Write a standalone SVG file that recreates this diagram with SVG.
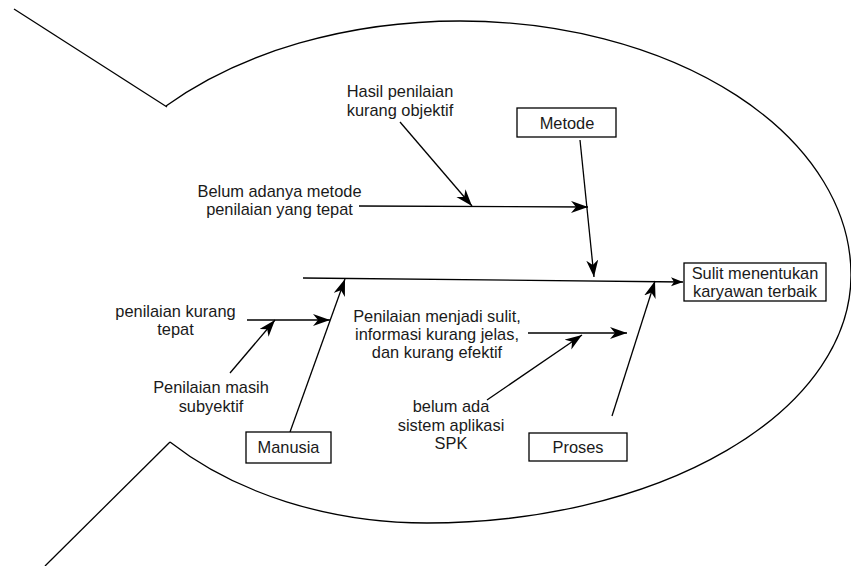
<svg xmlns="http://www.w3.org/2000/svg" width="851" height="566" viewBox="0 0 851 566">
<style>
.ln{fill:none;stroke:#000;stroke-width:1.3}
.bx{fill:#fff;stroke:#000;stroke-width:1.3}
text{font-family:"Liberation Sans",Arial,sans-serif;font-size:16.4px;fill:#1a1a1a;text-anchor:middle}
</style>
<defs>
<marker id="ah" markerUnits="userSpaceOnUse" markerWidth="20" markerHeight="14" refX="17" refY="6" orient="auto"><path d="M0,0 L17,6 L0,12 L5,6 z" fill="#000"/></marker>
<marker id="as" markerUnits="userSpaceOnUse" markerWidth="14" markerHeight="10" refX="12" refY="4.5" orient="auto"><path d="M0,0 L12,4.5 L0,9 L3,4.5 z" fill="#000"/></marker>
</defs>
<rect width="851" height="566" fill="#fff"/>
<g id="fish">
<path class="ln" d="M14,9 L167,107"/>
<path class="ln" d="M166,106 A394,254 0 0 1 460,21 A391,254 0 0 1 851,275 A424,248 0 0 1 427,523 A348,248 0 0 1 170,442"/>
<path class="ln" d="M170,442 L45,566"/>
</g>
<g id="connectors">
<path class="ln" d="M303,278 L683,282" marker-end="url(#as)"/>
<path class="ln" d="M580,140 L594,277" marker-end="url(#ah)"/>
<path class="ln" d="M359,206 L588,207" marker-end="url(#ah)"/>
<path class="ln" d="M400,122 L472,206" marker-end="url(#ah)"/>
<path class="ln" d="M290,432 L345,279" marker-end="url(#ah)"/>
<path class="ln" d="M247,320 L330,320" marker-end="url(#ah)"/>
<path class="ln" d="M230,373 L275,320" marker-end="url(#ah)"/>
<path class="ln" d="M612,416 L655,281" marker-end="url(#ah)"/>
<path class="ln" d="M528,333 L627,333" marker-end="url(#ah)"/>
<path class="ln" d="M487,400 L582,335" marker-end="url(#ah)"/>
</g>
<g id="effect">
<rect class="bx" x="684" y="263" width="142" height="38"/>
<text x="755" y="279"><tspan x="755">Sulit menentukan</tspan><tspan x="755" dy="18">karyawan terbaik</tspan></text>
</g>
<g id="metode">
<rect class="bx" x="517" y="108" width="99" height="29"/>
<text x="567" y="129">Metode</text>
</g>
<g id="manusia">
<rect class="bx" x="246" y="432" width="85" height="31"/>
<text x="288.5" y="453">Manusia</text>
</g>
<g id="proses">
<rect class="bx" x="529" y="433" width="98" height="28"/>
<text x="578" y="453">Proses</text>
</g>
<g id="cause-hasil">
<text x="400" y="97"><tspan x="400">Hasil penilaian</tspan><tspan x="400" dy="18.5">kurang objektif</tspan></text>
</g>
<g id="cause-belum-metode">
<text x="279.5" y="197"><tspan x="279.5">Belum adanya metode</tspan><tspan x="279.5" dy="18">penilaian yang tepat</tspan></text>
</g>
<g id="cause-kurang-tepat">
<text x="175.5" y="317"><tspan x="175.5">penilaian kurang</tspan><tspan x="175.5" dy="18">tepat</tspan></text>
</g>
<g id="cause-subyektif">
<text x="211" y="393"><tspan x="211">Penilaian masih</tspan><tspan x="211" dy="19">subyektif</tspan></text>
</g>
<g id="cause-sulit">
<text x="437" y="322"><tspan x="437">Penilaian menjadi sulit,</tspan><tspan x="437" dy="18">informasi kurang jelas,</tspan><tspan x="437" dy="18">dan kurang efektif</tspan></text>
</g>
<g id="cause-spk">
<text x="451" y="412"><tspan x="451">belum ada</tspan><tspan x="451" dy="18.5">sistem aplikasi</tspan><tspan x="451" dy="18.5">SPK</tspan></text>
</g>
</svg>
